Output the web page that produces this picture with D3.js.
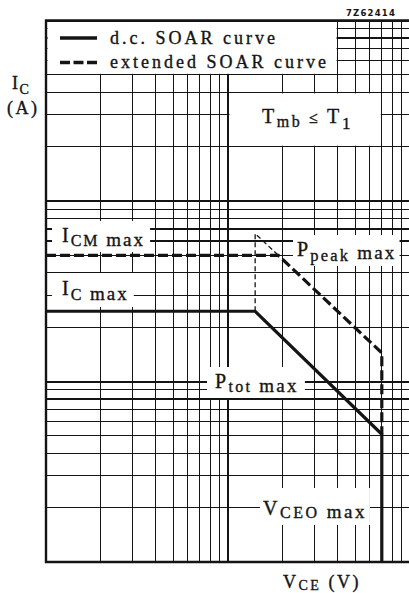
<!DOCTYPE html>
<html>
<head>
<meta charset="utf-8">
<script src="https://cdn.jsdelivr.net/npm/d3@7"></script>
<style>
  html, body { margin: 0; padding: 0; background: #fff; }
  svg { display: block; }
</style>
</head>
<body>
<script>
// Safe operating area (SOAR) of a power transistor, log-log axes.
const vceDomain = [1, 100];      // V_CE, two decades
const icDomain = [0.01, 10];     // I_C, three decades

// d.c. SOAR curve: I_C max plateau, P_tot max slope, V_CEO max limit
const dcVce = [1, 14.1, 70, 70];
const dcIc  = [0.245, 0.245, 0.051, 0.01];

// extended SOAR curve: I_CM max plateau, P_peak max slope, V_CEO max limit
const extVce = [1, 18.9, 70, 70];
const extIc  = [0.5, 0.5, 0.144, 0.051];

// thin construction line continuing the P_peak slope up to the knee voltage
const peakVce = [14.1, 14.1, 18.9];
const peakIc  = [0.245, 0.66, 0.5];

const legendLabels = ["d.c. SOAR curve", "extended SOAR curve"];
const figureCode = "7Z62414";

const W = 409, H = 593;
const serif = "'Liberation Serif', 'Times New Roman', serif";
const ink = "#141414";

const svg = d3.select("body").append("svg")
  .attr("width", W).attr("height", H);

svg.append("rect").attr("width", W).attr("height", H).attr("fill", "#fff");

const x = d3.scaleLog().domain(vceDomain).range([46, 410]);
const y = d3.scaleLog().domain(icDomain).range([562, 20.5]);

// grid: every 1..9 x 10^k in each decade
function logTicks(domain) {
  const out = [];
  const lo = Math.round(Math.log10(domain[0])), hi = Math.round(Math.log10(domain[1]));
  for (let e = lo; e < hi; e++) {
    for (let m = 1; m <= 9; m++) out.push({ v: m * Math.pow(10, e), major: m === 1 });
  }
  out.push({ v: Math.pow(10, hi), major: true });
  return out;
}

const grid = svg.append("g").attr("stroke", ink).attr("shape-rendering", "crispEdges");

grid.selectAll("line.v").data(logTicks(vceDomain)).join("line")
  .attr("class", "v")
  .attr("x1", d => x(d.v)).attr("x2", d => x(d.v))
  .attr("y1", y(icDomain[1])).attr("y2", y(icDomain[0]))
  .attr("stroke-width", d => d.major ? 2 : 1.2);

grid.selectAll("line.h").data(logTicks(icDomain)).join("line")
  .attr("class", "h")
  .attr("x1", x(vceDomain[0])).attr("x2", W)
  .attr("y1", d => y(d.v)).attr("y2", d => y(d.v))
  .attr("stroke-width", d => d.major ? 2 : 1.2);

// white cells for the legend and the temperature note (edges stay on grid lines)
const cells = svg.append("g").attr("fill", "#fff");
cells.append("rect")
  .attr("x", x(1) + 1.5).attr("y", y(10) + 1.5)
  .attr("width", x(40) - x(1) - 2.5).attr("height", y(5) - y(10) - 2.5);
cells.append("rect")
  .attr("x", x(10) + 1.5).attr("y", y(4) + 1)
  .attr("width", x(70) - x(10) - 2.5).attr("height", y(2) - y(4) - 2);

// frame
const frame = svg.append("g").attr("stroke", ink).attr("stroke-width", 2.4).attr("fill", "none");
frame.append("path")
  .attr("d", `M${W},${y(icDomain[1])}H${x(vceDomain[0])}V${y(icDomain[0])}H${W}`);

// text with subscripts: parts = [text, fontSize, baselineShift]
function richText(g, px, py, parts) {
  const t = g.append("text")
    .attr("x", px).attr("y", py)
    .attr("font-family", serif).attr("fill", ink)
    .attr("stroke", ink).attr("stroke-width", 0.35)
    .attr("letter-spacing", 2.2);
  let prev = 0;
  parts.forEach(([s, size, shift]) => {
    t.append("tspan").attr("font-size", size).attr("dy", shift - prev).text(s);
    prev = shift;
  });
  return t;
}

// annotation labels sit on white patches cut into the grid
const labelLayer = svg.append("g");
function boxedLabel(px, py, parts, pad, spacing) {
  const g = labelLayer.append("g");
  const rect = g.append("rect").attr("fill", "#fff");
  const t = richText(g, px, py, parts).attr("letter-spacing", spacing);
  const b = t.node().getBBox();
  rect.attr("x", b.x - pad[0]).attr("y", b.y - pad[1])
    .attr("width", b.width + pad[0] + pad[2]).attr("height", b.height + pad[1] + pad[3]);
}

boxedLabel(62, 242, [["I", 20, 0], ["CM", 16, 4], [" max", 19, 4]], [10, 3, 5, 2], 2);
boxedLabel(62, 295, [["I", 20, 0], ["C", 16, 5], [" max", 19, 5]], [10, 4, 5, 3], 2);
boxedLabel(297, 256, [["P", 20, 0], ["peak", 16.5, 5], [" max", 19, 3]], [4, 3, 3, 1], 2.2);
boxedLabel(215, 388, [["P", 20, 0], ["tot", 16, 4], [" max", 19, 4]], [8, 3, 6, 2], 2.3);
boxedLabel(263, 515, [["V", 20, 0], ["CEO", 16, 3], [" max", 19, 3]], [3, 9, 3, 3], 2.5);

// curves
const line = d3.line().x(d => x(d[0])).y(d => y(d[1]));
const curves = svg.append("g").attr("fill", "none").attr("stroke", ink);

curves.append("path")
  .attr("d", line(d3.zip(peakVce, peakIc)))
  .attr("stroke-width", 1.3).attr("stroke-dasharray", "5,3");

curves.append("path")
  .attr("d", line(d3.zip(extVce, extIc)))
  .attr("stroke-width", 3.2).attr("stroke-dasharray", "10,4")
  .attr("stroke-linejoin", "miter");

curves.append("path")
  .attr("d", line(d3.zip(dcVce, dcIc)))
  .attr("stroke-width", 3.2).attr("stroke-linejoin", "miter");

// legend
const legend = svg.append("g");
legend.append("line").attr("x1", 60).attr("x2", 97).attr("y1", 38).attr("y2", 38)
  .attr("stroke", ink).attr("stroke-width", 3.4);
legend.append("line").attr("x1", 60).attr("x2", 97).attr("y1", 62.5).attr("y2", 62.5)
  .attr("stroke", ink).attr("stroke-width", 3.4).attr("stroke-dasharray", "10,3.5");
legend.selectAll("text.lg").data(legendLabels).join("text")
  .attr("class", "lg")
  .attr("x", 110).attr("y", (d, i) => 44 + i * 23.5)
  .attr("font-family", serif).attr("font-size", 18)
  .attr("letter-spacing", 3).attr("fill", ink)
  .attr("stroke", ink).attr("stroke-width", 0.35)
  .text(d => d);

// ambient temperature note
richText(svg, 262, 123, [["T", 20, 0], ["mb", 16, 4], [" \u2264 ", 16, 0], ["T", 20, 0], ["1", 17, 6]])
  .attr("letter-spacing", 2.6);

// axis titles
richText(svg, 12, 89, [["I", 18, 0], ["C", 14, 5]]).attr("letter-spacing", 1.5);
richText(svg, 7, 114, [["(A)", 18, 0]]).attr("letter-spacing", 2.5);
richText(svg, 283, 588, [["V", 18, 0], ["CE", 14, 2], [" (V)", 18, 0]]).attr("letter-spacing", 2.5);

// drawing code
svg.append("text")
  .attr("x", 346).attr("y", 16)
  .attr("font-family", "'DejaVu Sans', sans-serif").attr("font-size", 8.5)
  .attr("font-weight", "bold").attr("letter-spacing", 1.2).attr("fill", ink)
  .text(figureCode);
</script>
</body>
</html>
